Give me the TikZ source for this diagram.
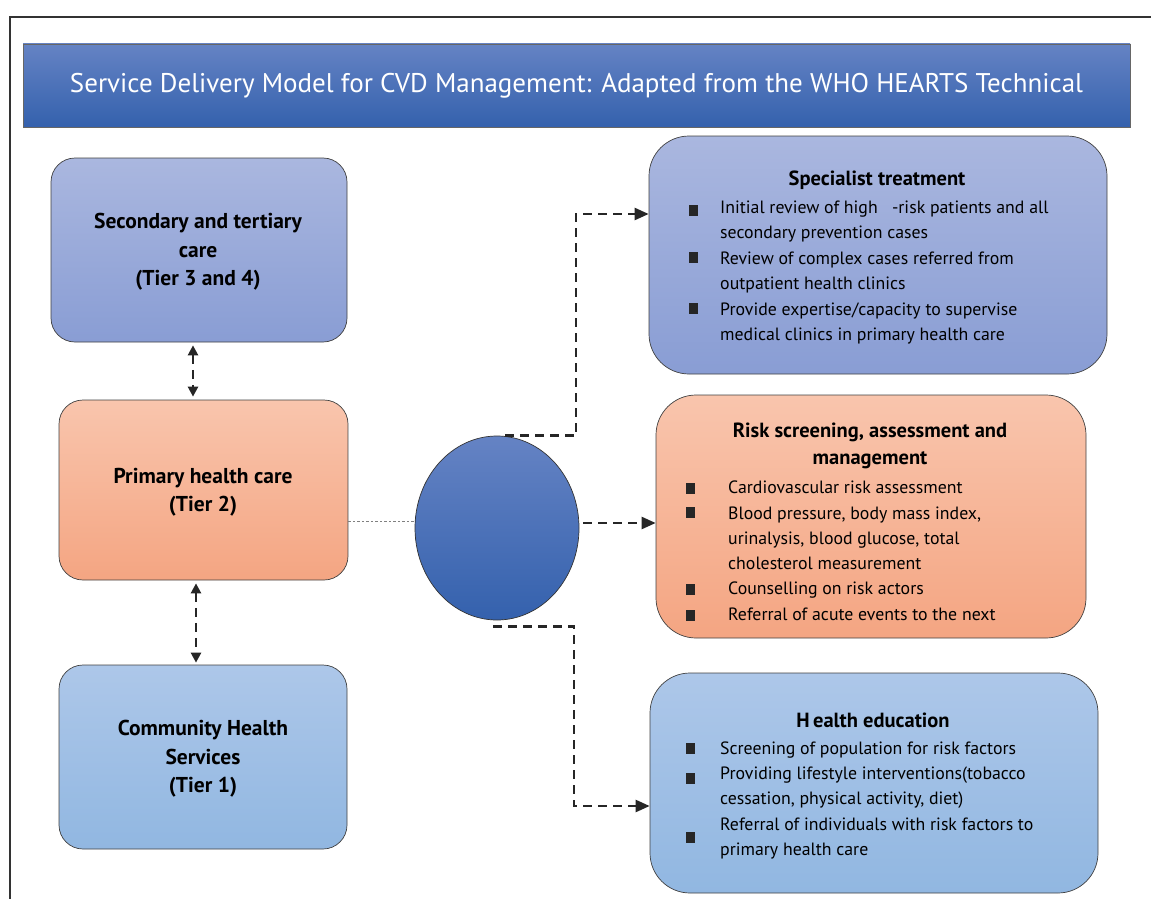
\documentclass[tikz,border=0pt]{standalone}
\usepackage{fontspec}
\setmainfont{PT Sans}
\usetikzlibrary{arrows.meta, shapes.geometric}
\definecolor{barTop}{RGB}{101,131,196}
\definecolor{barBot}{RGB}{52,97,173}
\definecolor{lilacTop}{RGB}{170,183,223}
\definecolor{lilacBot}{RGB}{137,157,212}
\definecolor{peachTop}{RGB}{249,197,173}
\definecolor{peachBot}{RGB}{244,165,130}
\definecolor{skyTop}{RGB}{173,199,233}
\definecolor{skyBot}{RGB}{145,183,225}

\begin{document}
\begin{tikzpicture}[x=1pt, y=-1pt]
\useasboundingbox (0,0) rectangle (1151,899);
\tikzstyle{tier}=[rectangle, rounded corners=24pt, draw=black!75, line width=0.7pt,
                  align=center, font=\fontsize{21.5}{28.5}\selectfont\bfseries]
\tikzstyle{panel}=[rectangle, rounded corners=40pt, draw=black!75, line width=0.7pt]
\tikzstyle{hd}=[align=center, inner sep=0pt, font=\fontsize{20.5}{27.5}\selectfont\bfseries]
\tikzstyle{itm}=[anchor=base west, align=left, inner sep=0pt, font=\fontsize{17.8}{25.3}\selectfont]
\tikzstyle{blt}=[rectangle, fill=black!85, inner sep=0pt, minimum width=9pt, minimum height=11pt]
\tikzstyle{dasharr}=[line width=2.4pt, dash pattern=on 9pt off 6pt, black!85]
% frame and title
\draw[line width=1.2pt, black!80] (10,899) -- (10,17) -- (1151,17);
\node[rectangle, draw=black!60, line width=0.8pt, top color=barTop, bottom color=barBot,
      minimum width=1107pt, minimum height=83pt, text=white,
      font=\fontsize{27}{30}\selectfont] (title) at (576.5,85.5)
      {Service Delivery Model for CVD Management: Adapted from the WHO HEARTS Technical};
% tiers
\node[tier, top color=lilacTop, bottom color=lilacBot, minimum width=296pt, minimum height=184pt]
      (sec) at (199,250) {};
\node[tier, top color=peachTop, bottom color=peachBot, minimum width=289pt, minimum height=180pt]
      (prim) at (203.5,490) {};
\node[tier, top color=skyTop, bottom color=skyBot, minimum width=288pt, minimum height=184pt]
      (comm) at (203,757) {};
\node[tier, draw=none, fill=none] (sectx) at (198,252) {Secondary and tertiary\\care\\(Tier 3 and 4)};
\node[tier, draw=none, fill=none] (primtx) at (203,492) {Primary health care\\(Tier 2)};
\node[tier, draw=none, fill=none] (commtx) at (203,759) {Community Health\\Services\\(Tier 1)};
\node[ellipse, draw=black!80, line width=0.7pt, top color=barTop, bottom color=barBot,
      minimum width=164pt, minimum height=184pt] (hub) at (497,528) {};
% right panels
\node[panel, top color=lilacTop, bottom color=lilacBot, minimum width=458pt, minimum height=238pt]
      (spec) at (878,255) {};
\node[panel, top color=peachTop, bottom color=peachBot, minimum width=430pt, minimum height=243pt]
      (risk) at (871,516.5) {};
\node[panel, top color=skyTop, bottom color=skyBot, minimum width=448pt, minimum height=220pt]
      (edu) at (874,783) {};
% panel texts (base = last line)
\node[hd] (spechd) at (877,180) {Specialist treatment};
\node[itm] (spec1) at (720,238.3) {Initial review of high \ \ -risk patients and all\\secondary prevention cases};
\node[itm] (spec2) at (720,289.3) {Review of complex cases referred from\\outpatient health clinics};
\node[itm] (spec3) at (720,340.3) {Provide expertise/capacity to supervise\\medical clinics in primary health care};
\node[hd] (riskhd) at (870,446) {Risk screening, assessment and\\management};
\node[itm] (risk1) at (728,493) {Cardiovascular risk assessment};
\node[itm] (risk2) at (728,569.6) {Blood pressure, body mass index,\\urinalysis, blood glucose, total\\cholesterol measurement};
\node[itm] (risk3) at (728,594) {Counselling on risk actors};
\node[itm] (risk4) at (728,620) {Referral of acute events to the next};
\node[hd] (eduhd) at (873,720) {H\,ealth education};
\node[itm] (edu1) at (720,754) {Screening of population for risk factors};
\node[itm] (edu2) at (720,804.3) {Providing lifestyle interventions(tobacco\\cessation, physical activity, diet)};
\node[itm] (edu3) at (720,855.3) {Referral of individuals with risk factors to\\primary health care};
% bullets
\foreach \bx/\by/\bn in {693/210/s1,693/257/s2,693/308/s3,690/488/r1,690/512/r2,690/589/r3,
                         690/615/r4,690/748/e1,690/778/e2,690/837/e3}{\node[blt] (b\bn) at (\bx,\by) {};}
% connectors
\coordinate (up1) at ([xshift=-6pt]sec.south);
\draw[dasharr, {Triangle[length=10pt,width=10pt]}-{Triangle[length=10pt,width=10pt]}]
      ([yshift=-3pt]up1) -- ([yshift=3pt]up1 |- prim.north);
\coordinate (up2) at ([xshift=-7.5pt]prim.south);
\draw[dasharr, {Triangle[length=10pt,width=10pt]}-{Triangle[length=10pt,width=10pt]}]
      ([yshift=-3pt]up2) -- ([yshift=2pt]up2 |- comm.north);
\coordinate (d0) at ([yshift=-31pt]prim.east);
\draw[gray, line width=0.9pt, dash pattern=on 2.5pt off 2pt] (d0) -- (d0 -| hub.west);
\coordinate (t0) at ([xshift=8pt]hub.north);
\coordinate (t1) at ([yshift=41pt]spec.west);
\draw[dasharr, -{Triangle[length=14pt,width=12pt]}] (t0) -- ++(71,0) |- (t1);
\coordinate (m0) at ([xshift=4pt,yshift=5pt]hub.east);
\draw[dasharr, -{Triangle[length=14pt,width=12pt]}] (m0) -- (m0 -| risk.west);
\coordinate (b0) at ([xshift=-4pt,yshift=-6pt]hub.south);
\coordinate (b1) at ([yshift=-23pt]edu.west);
\draw[dasharr, -{Triangle[length=14pt,width=12pt]}] (b0) -- ++(81,0) |- (b1);
\end{tikzpicture}
\end{document}
